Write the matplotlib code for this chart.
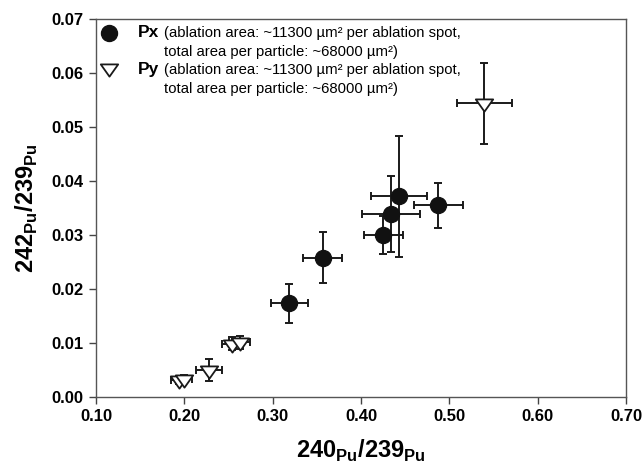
import matplotlib
matplotlib.use("Agg")
import matplotlib.pyplot as plt
from matplotlib.lines import Line2D
from matplotlib.path import Path

plt.rcParams['font.family'] = ['Liberation Sans', 'DejaVu Sans']
plt.rcParams['mathtext.fontset'] = 'custom'
plt.rcParams['mathtext.rm'] = 'Liberation Sans'
plt.rcParams['mathtext.bf'] = 'Liberation Sans:bold'

# Px particle (filled circles)
px_x = [0.319, 0.3565, 0.4254, 0.4344, 0.4427, 0.4877]
px_y = [0.0173, 0.0258, 0.0300, 0.0339, 0.0372, 0.0355]
px_xerr = [0.021, 0.0225, 0.0225, 0.0328, 0.0319, 0.0282]
px_yerr = [0.0036, 0.0047, 0.0036, 0.0070, 0.0112, 0.0042]

# Py particle (open triangles)
py_x = [0.1935, 0.1995, 0.2282, 0.2545, 0.2627, 0.5398]
py_y = [0.0031, 0.0033, 0.0050, 0.0098, 0.0101, 0.0544]
py_xerr = [0.008, 0.009, 0.0144, 0.012, 0.012, 0.0307]
py_yerr = [0.0008, 0.0008, 0.0020, 0.0012, 0.0012, 0.0076]

x_ticks = [0.10, 0.20, 0.30, 0.40, 0.50, 0.60, 0.70]
y_ticks = [0.00, 0.01, 0.02, 0.03, 0.04, 0.05, 0.06, 0.07]

series_names = ["Px", "Py"]
series_line1 = ["(ablation area: ~11300 µm² per ablation spot,",
                "(ablation area: ~11300 µm² per ablation spot,"]
series_line2 = ["total area per particle: ~68000 µm²)",
                "total area per particle: ~68000 µm²)"]

tri = Path([(-1, 0.47), (1, 0.47), (0, -0.94), (-1, 0.47)],
           [Path.MOVETO, Path.LINETO, Path.LINETO, Path.CLOSEPOLY])

fig = plt.figure(figsize=(6.44, 4.67), dpi=100)
ax = fig.add_axes([0.149, 0.1505, 0.823, 0.808])

ax.errorbar(py_x, py_y, xerr=py_xerr, yerr=py_yerr, fmt='none',
            ecolor='#1a1a1a', elinewidth=1.4, capsize=3.2, capthick=1.4, zorder=2)
ax.plot(py_x, py_y, linestyle='none', marker=tri, ms=12.5, mfc='white',
        mec='#1a1a1a', mew=1.3, zorder=3)
ax.errorbar(px_x, px_y, xerr=px_xerr, yerr=px_yerr, fmt='none',
            ecolor='#1a1a1a', elinewidth=1.4, capsize=3.2, capthick=1.4, zorder=2)
ax.plot(px_x, px_y, linestyle='none', marker='o', ms=11.5, mfc='#111111',
        mec='#111111', zorder=3)

ax.set_xlim(0.10, 0.70)
ax.set_ylim(0.00, 0.07)
ax.set_xticks(x_ticks)
ax.set_yticks(y_ticks)
ax.set_xticklabels([f"{v:.2f}" for v in x_ticks], fontweight='bold', fontsize=12)
ax.set_yticklabels([f"{v:.2f}" for v in y_ticks], fontweight='bold', fontsize=12)
ax.tick_params(direction='out', length=5, width=1, color='#444444', pad=4)

for s in ax.spines.values():
    s.set_color('#555555')
    s.set_linewidth(1.0)

ax.set_xlabel(r"$\mathbf{240}_{\mathbf{Pu}}\mathbf{/239}_{\mathbf{Pu}}$", fontsize=17, labelpad=10)
ax.set_ylabel(r"$\mathbf{242}_{\mathbf{Pu}}\mathbf{/239}_{\mathbf{Pu}}$", fontsize=17, labelpad=8)

# legend markers
handles = [Line2D([], [], linestyle='none', marker='o', ms=11.5, mfc='#111111', mec='#111111'),
           Line2D([], [], linestyle='none', marker=tri, ms=12.5, mfc='white', mec='#1a1a1a', mew=1.3)]
ax.legend(handles, [' ', ' '], loc='upper left', frameon=False,
          fontsize=10.7, handletextpad=0.0, borderaxespad=0.0, labelspacing=1.37,
          handlelength=0.6, borderpad=0.55)

# legend texts
name_y = [0.9528, 0.8562]
line_step = 19 / 377
for name, l1, l2, yy in zip(series_names, series_line1, series_line2, name_y):
    ax.text(0.0798, yy, name, transform=ax.transAxes, fontsize=12.5,
            fontweight='bold', va='baseline', ha='left')
    ax.text(0.1283, yy, l1, transform=ax.transAxes, fontsize=10.7,
            va='baseline', ha='left')
    ax.text(0.1283, yy - line_step, l2, transform=ax.transAxes, fontsize=10.7,
            va='baseline', ha='left')

fig.savefig("out.png", dpi=100)
